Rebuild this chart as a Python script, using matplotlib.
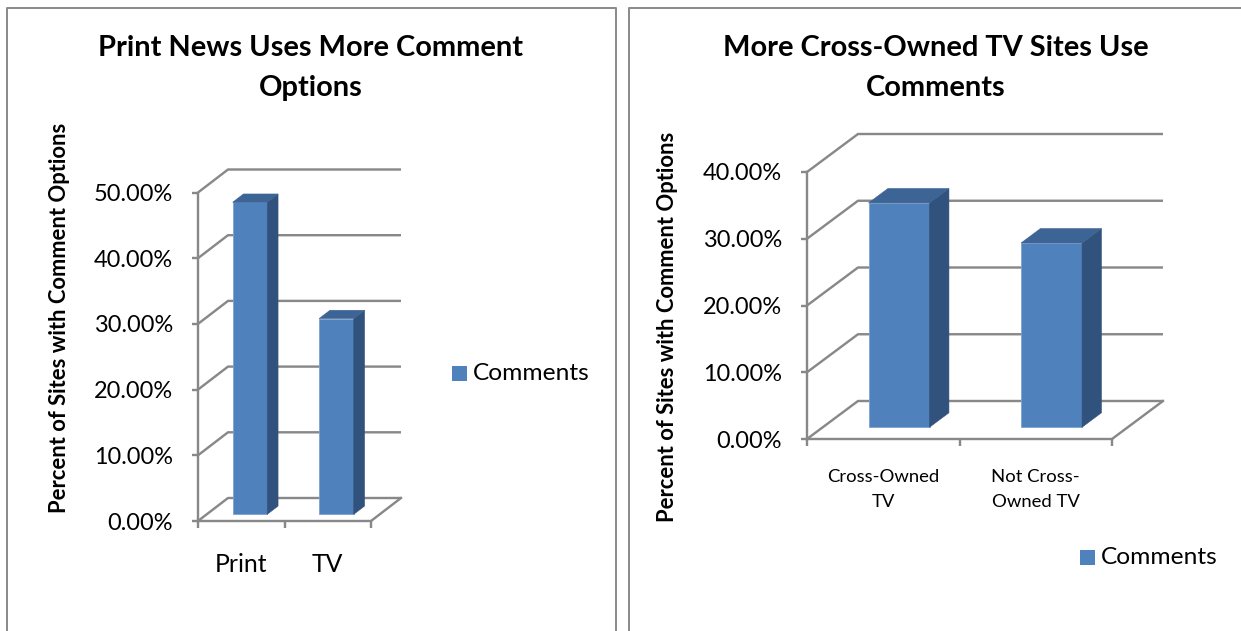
import matplotlib
matplotlib.use('Agg')
import matplotlib.pyplot as plt
from matplotlib.patches import Polygon, Rectangle
from matplotlib.lines import Line2D
from matplotlib.ticker import FuncFormatter, FixedLocator

W, H = 1241, 631

# ---------------- data ----------------
left_title = "Print News Uses More Comment\nOptions"
left_categories = ["Print", "TV"]
left_values = [47.5, 29.8]
left_ticks = [0, 10, 20, 30, 40, 50]

right_title = "More Cross-Owned TV Sites Use\nComments"
right_categories = ["Cross-Owned\nTV", "Not Cross-\nOwned TV"]
right_values = [33.6, 27.6]
right_ticks = [0, 10, 20, 30, 40]

series_name = "Comments"
y_label = "Percent of Sites with Comment Options"

# ---------------- style ----------------
FONT = "Lato"
plt.rcParams['font.family'] = [FONT, 'DejaVu Sans']
GRID = "#888888"
FRONT = "#4F81BD"
TOP = "#3C6494"
SIDE = "#31527C"
EDGE = "#7FA2D0"
PX = 72 / 100.0  # points per pixel at dpi 100
LW = 2.4 * PX

fig = plt.figure(figsize=(W / 100, H / 100), dpi=100)


def fx(x):
    return x / W


def fy(y):
    return 1 - y / H


# panel borders
for (xa, xb) in [(7, 616), (629, 1250)]:
    fig.add_artist(Line2D([fx(xa), fx(xa), fx(xb), fx(xb)],
                          [fy(H + 5), fy(8), fy(8), fy(H + 5)],
                          color="#8C8C8C", lw=2 * PX, transform=fig.transFigure))


def panel(rect, origin, unit_px, pct_px, depth_px, f0, fd, cats, vals, ticks,
          cat_fs, title, title_xy, ylabel_xy, legend_xy):
    x0, yt, x1, yb = rect
    ax = fig.add_axes([fx(x0), fy(yb), (x1 - x0) / W, (yb - yt) / H])
    ox, oy = origin
    ax.set_xlim((x0 - ox) / unit_px, (x1 - ox) / unit_px)
    ax.set_ylim((oy - yb) / pct_px, (oy - yt) / pct_px)
    ax.patch.set_visible(False)
    ddx = depth_px[0] / unit_px
    ddy = depth_px[1] / pct_px
    n = len(cats)
    ymax = ticks[-1]

    # spines as front axes
    for s in ["top", "right"]:
        ax.spines[s].set_visible(False)
    ax.spines["left"].set_position(("data", 0))
    ax.spines["left"].set_bounds(0, ymax)
    ax.spines["bottom"].set_position(("data", 0))
    ax.spines["bottom"].set_bounds(0, n)
    for s in ["left", "bottom"]:
        ax.spines[s].set_color(GRID)
        ax.spines[s].set_linewidth(LW)
        ax.spines[s].set_zorder(1)

    ax.yaxis.set_major_locator(FixedLocator(ticks))
    ax.yaxis.set_major_formatter(FuncFormatter(lambda v, p: f"{v:.2f}%"))
    ax.tick_params(axis="y", direction="out", length=6 * PX, width=LW,
                   color=GRID, pad=19 * PX, labelsize=23.5 * PX, labelcolor="black")
    ax.xaxis.set_major_locator(FixedLocator(list(range(n + 1))))
    ax.xaxis.set_major_formatter(FuncFormatter(lambda v, p: ""))
    ax.xaxis.set_minor_locator(FixedLocator([i + 0.5 for i in range(n)]))
    ax.set_xticklabels(cats, minor=True)
    ax.tick_params(axis="x", which="major", direction="out", length=7 * PX,
                   width=LW, color=GRID)
    ax.tick_params(axis="x", which="minor", length=0, pad=cat_fs[1] * PX,
                   labelsize=cat_fs[0] * PX, labelcolor="black")
    for lab in ax.get_xticklabels(minor=True):
        lab.set_linespacing(cat_fs[2])

    # back wall gridlines + side wall diagonals
    for v in ticks:
        ax.plot([0, ddx, n + ddx], [v, v + ddy, v + ddy], color=GRID,
                lw=LW, zorder=1, clip_on=False, solid_capstyle="butt")
    # floor right edge
    ax.plot([n, n + ddx], [0, ddy], color=GRID, lw=LW, zorder=1, clip_on=False)

    # bars (front face via ax.bar, side/top faces as depth polygons)
    bw = 0.4
    sx, sy = f0 * ddx, f0 * ddy
    kx, ky = fd * ddx, fd * ddy
    centers = [i + 0.5 + sx for i in range(n)]
    ax.bar(centers, vals, width=bw, bottom=sy, color=FRONT, edgecolor=EDGE,
           linewidth=0.6, zorder=3, clip_on=False)
    for c, v in zip(centers, vals):
        xl, xr = c - bw / 2, c + bw / 2
        b, t = sy, sy + v
        ax.add_patch(Polygon([(xr, b), (xr + kx, b + ky), (xr + kx, t + ky), (xr, t)],
                             closed=True, facecolor=SIDE, edgecolor=SIDE, lw=0.4,
                             zorder=3, clip_on=False))
        ax.add_patch(Polygon([(xl, t), (xr, t), (xr + kx, t + ky), (xl + kx, t + ky)],
                             closed=True, facecolor=TOP, edgecolor=TOP, lw=0.4,
                             zorder=3, clip_on=False))

    # title
    fig.text(fx(title_xy[0]), fy(title_xy[1]), title, ha="center", va="center",
             fontsize=29 * PX, fontweight="bold", linespacing=1.62)
    # y label
    fig.text(fx(ylabel_xy[0]), fy(ylabel_xy[1]), y_label, rotation=90,
             ha="center", va="center", fontsize=22 * PX, fontweight="bold")
    # legend
    lx, ly = legend_xy
    fig.add_artist(Rectangle((fx(lx), fy(ly + 7.5)), 15 / W, 15 / H,
                             facecolor=FRONT, edgecolor="none",
                             transform=fig.transFigure))
    fig.text(fx(lx + 21), fy(ly), series_name, ha="left", va="center",
             fontsize=24.5 * PX)
    return ax


panel(rect=(198, 150, 420, 540), origin=(198, 521), unit_px=86.5, pct_px=6.57,
      depth_px=(30, 23), f0=0.29, fd=0.36, cats=left_categories,
      vals=left_values, ticks=left_ticks, cat_fs=(24.7, 32, 1.2),
      title=left_title, title_xy=(311, 68), ylabel_xy=(60, 318),
      legend_xy=(452, 373))

panel(rect=(807, 120, 1170, 460), origin=(807, 439), unit_px=152.5, pct_px=6.675,
      depth_px=(51, 38), f0=0.31, fd=0.38, cats=right_categories,
      vals=right_values, ticks=right_ticks, cat_fs=(18.5, 30.5, 1.62),
      title=right_title, title_xy=(936, 68), ylabel_xy=(667, 327),
      legend_xy=(1080, 557))

fig.savefig("out.png", dpi=100, facecolor="white")
